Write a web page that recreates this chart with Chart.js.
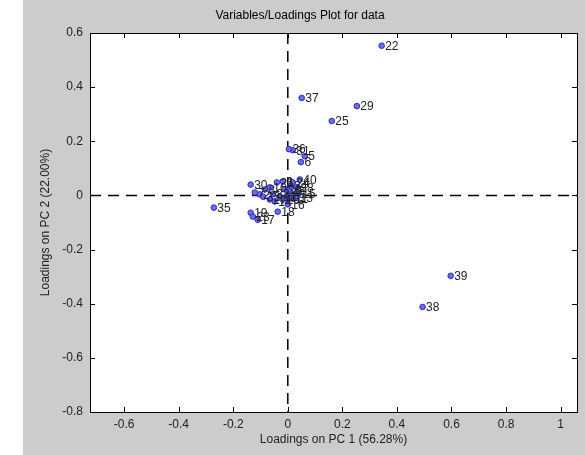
<!DOCTYPE html>
<html>
<head>
<meta charset="utf-8">
<title>Variables/Loadings Plot for data</title>
<script src="https://cdn.jsdelivr.net/npm/chart.js@4/dist/chart.umd.min.js"></script>
<style>
  html, body { margin: 0; padding: 0; background: #fff; }
  canvas { display: block; }
</style>
</head>
<body>
<canvas id="loadings" width="585" height="455"></canvas>
<script>
// variable numbers and their loadings on the first two components
var varLabels = ['1', '2', '3', '4', '5', '6', '7', '8', '9', '10',
                 '11', '12', '13', '14', '15', '16', '17', '18', '19', '20',
                 '21', '22', '23', '24', '25', '26', '27', '28', '29', '30',
                 '31', '32', '33', '34', '35', '36', '37', '38', '39', '40'];
var pc1 = [-0.004, -0.103, -0.018, 0.007, 0.062, 0.048, -0.121, -0.084, 0.026, -0.066,
           0.015, -0.029, 0.030, -0.048, 0.040, 0.000, -0.110, -0.037, -0.136, -0.011,
           -0.040, 0.344, -0.128, 0.018, 0.161, -0.018, -0.066, 0.033, 0.253, -0.136,
           0.018, -0.090, -0.055, 0.010, -0.271, 0.004, 0.051, 0.494, 0.597, 0.044];
var pc2 = [-0.004, 0.004, 0.052, 0.015, 0.145, 0.123, 0.011, 0.022, 0.007, 0.030,
           -0.011, -0.004, -0.010, -0.022, 0.008, -0.033, -0.090, -0.060, -0.064, 0.022,
           0.048, 0.553, -0.078, 0.048, 0.275, -0.015, -0.015, 0.030, 0.330, 0.040,
           0.167, -0.005, 0.005, 0.035, -0.045, 0.171, 0.360, -0.412, -0.297, 0.059];

var xTicks = [-0.6, -0.4, -0.2, 0, 0.2, 0.4, 0.6, 0.8, 1];
var yTicks = [-0.8, -0.6, -0.4, -0.2, 0, 0.2, 0.4, 0.6];

var points = [];
for (var i = 0; i < varLabels.length; i++) {
  points.push({ x: pc1[i], y: pc2[i] });
}

function fmt(v) {
  var r = Math.round(v * 10) / 10;
  return r === 0 ? '0' : String(r);
}

// grey figure background, white axes box
var figureBg = {
  id: 'figureBg',
  beforeDraw: function(chart) {
    var ctx = chart.ctx, a = chart.chartArea;
    ctx.save();
    ctx.fillStyle = '#fff';
    ctx.fillRect(0, 0, chart.width, chart.height);
    ctx.fillStyle = '#cccccc';
    ctx.fillRect(23, 0, chart.width - 23, chart.height);
    ctx.fillStyle = '#fff';
    ctx.fillRect(a.left, a.top, a.right - a.left, a.bottom - a.top);
    ctx.restore();
  }
};

// dashed zero lines behind the points
var zeroLines = {
  id: 'zeroLines',
  beforeDatasetsDraw: function(chart) {
    var ctx = chart.ctx, a = chart.chartArea;
    var x0 = chart.scales.x.getPixelForValue(0);
    var y0 = chart.scales.y.getPixelForValue(0);
    ctx.save();
    ctx.strokeStyle = '#000';
    ctx.lineWidth = 1.5;
    ctx.setLineDash([11, 7]);
    ctx.beginPath();
    ctx.moveTo(a.left, y0);
    ctx.lineTo(a.right, y0);
    ctx.moveTo(x0, a.top);
    ctx.lineTo(x0, a.bottom);
    ctx.stroke();
    ctx.restore();
  }
};

// box with ticks pointing inwards on all four sides
var axesBox = {
  id: 'axesBox',
  afterDraw: function(chart) {
    var ctx = chart.ctx, a = chart.chartArea;
    var len = 5;
    ctx.save();
    ctx.strokeStyle = '#000';
    ctx.lineWidth = 1;
    ctx.beginPath();
    xTicks.forEach(function(v) {
      var px = Math.round(chart.scales.x.getPixelForValue(v)) + 0.5;
      ctx.moveTo(px, a.bottom); ctx.lineTo(px, a.bottom - len);
      ctx.moveTo(px, a.top); ctx.lineTo(px, a.top + len);
    });
    yTicks.forEach(function(v) {
      var py = Math.round(chart.scales.y.getPixelForValue(v)) + 0.5;
      ctx.moveTo(a.left, py); ctx.lineTo(a.left + len, py);
      ctx.moveTo(a.right, py); ctx.lineTo(a.right - len, py);
    });
    ctx.stroke();
    ctx.strokeRect(Math.round(a.left) + 0.5, Math.round(a.top) + 0.5,
                   Math.round(a.right - a.left), Math.round(a.bottom - a.top));
    ctx.restore();
  }
};

// variable number beside each point
var pointNames = {
  id: 'pointNames',
  afterDatasetsDraw: function(chart) {
    var ctx = chart.ctx;
    var meta = chart.getDatasetMeta(0);
    ctx.save();
    ctx.font = '12px "Liberation Sans", Arial, sans-serif';
    ctx.fillStyle = '#222';
    ctx.textAlign = 'left';
    ctx.textBaseline = 'middle';
    meta.data.forEach(function(el, i) {
      ctx.fillText(varLabels[i], el.x + 3.5, el.y + 1);
    });
    ctx.restore();
  }
};

var tickFont = { family: '"Liberation Sans", Arial, sans-serif', size: 12 };

new Chart(document.getElementById('loadings'), {
  type: 'scatter',
  data: {
    datasets: [{
      data: points,
      pointRadius: 2.8,
      pointHoverRadius: 2.8,
      pointBackgroundColor: '#6a6aff',
      pointBorderColor: '#2a2ad0',
      pointBorderWidth: 1
    }]
  },
  options: {
    responsive: false,
    animation: false,
    events: [],
    layout: { padding: { left: 23, right: 8, top: 0, bottom: 0 } },
    plugins: {
      legend: { display: false },
      tooltip: { enabled: false },
      title: {
        display: true,
        text: 'Variables/Loadings Plot for data',
        color: '#000',
        font: { family: '"Liberation Sans", Arial, sans-serif', size: 12, weight: 'normal' },
        padding: { top: 8, bottom: 10.6 }
      }
    },
    scales: {
      x: {
        type: 'linear',
        min: -0.725,
        max: 1.06,
        afterBuildTicks: function(s) { s.ticks = xTicks.map(function(v) { return { value: v }; }); },
        afterFit: function(s) { s.height = 43; },
        grid: { display: false, drawTicks: false },
        border: { display: false },
        ticks: { color: '#222', font: tickFont, padding: 5, maxRotation: 0,
                 callback: function(v) { return fmt(v); } },
        title: { display: true, text: 'Loadings on PC 1 (56.28%)', color: '#222',
                 font: tickFont, padding: { top: 0, bottom: 8 } }
      },
      y: {
        type: 'linear',
        min: -0.8,
        max: 0.6,
        afterBuildTicks: function(s) { s.ticks = yTicks.map(function(v) { return { value: v }; }); },
        afterFit: function(s) { s.width = 67; },
        grid: { display: false, drawTicks: false },
        border: { display: false },
        ticks: { color: '#222', font: tickFont, padding: 7,
                 callback: function(v) { return fmt(v); } },
        title: { display: true, text: 'Loadings on PC 2 (22.00%)', color: '#222',
                 font: tickFont, padding: { top: 15, bottom: 0 } }
      }
    }
  },
  plugins: [figureBg, zeroLines, axesBox, pointNames]
});
</script>
</body>
</html>
